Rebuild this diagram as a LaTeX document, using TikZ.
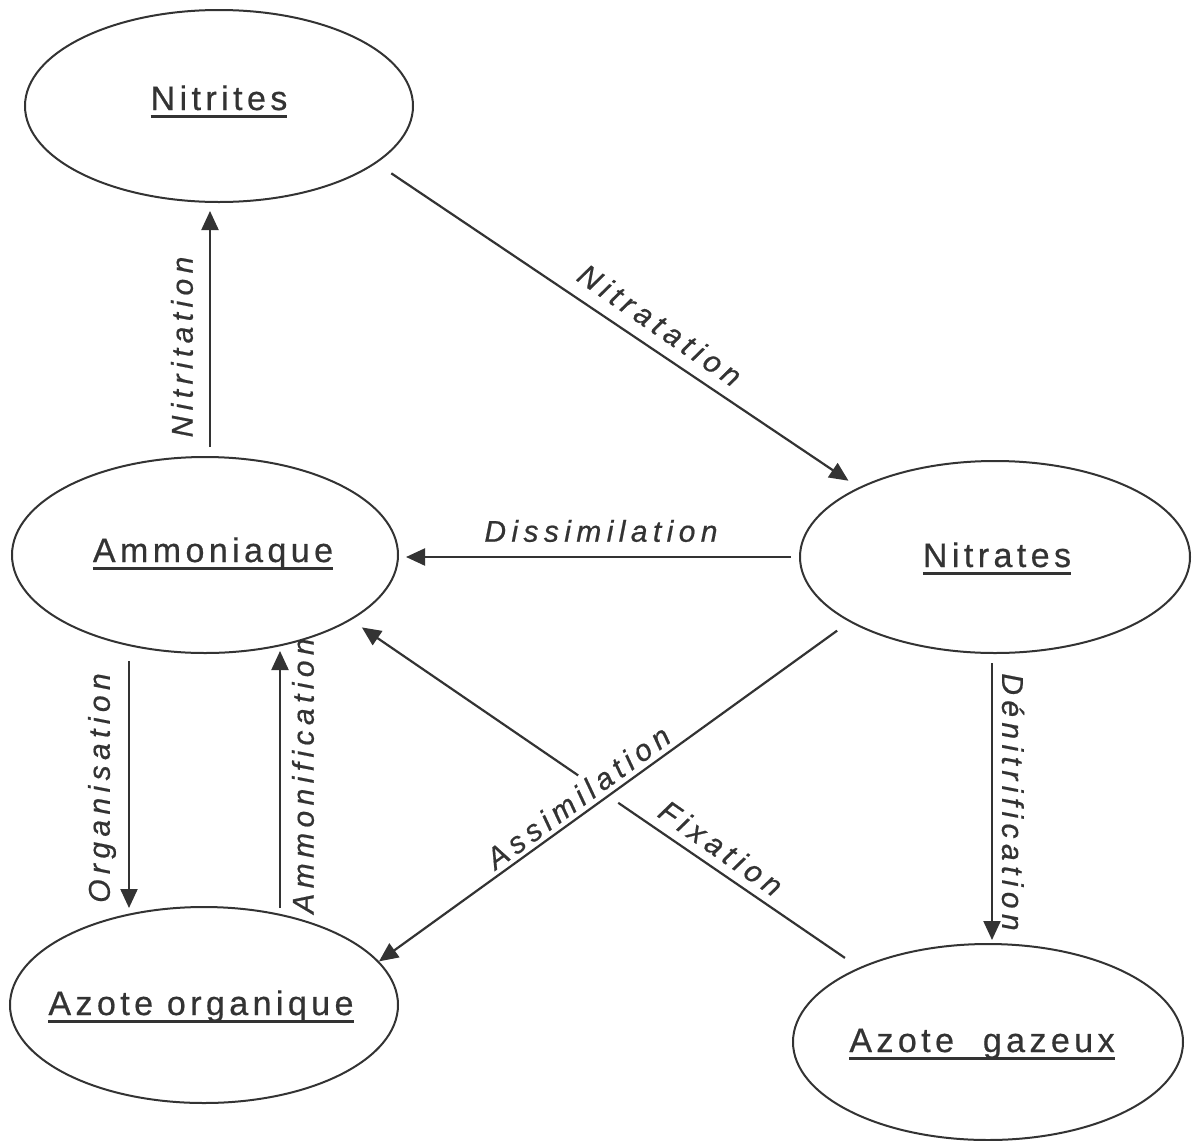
\documentclass[tikz,border=0pt]{standalone}
\usepackage{fontspec}
\setmainfont{Liberation Sans}
\newfontfamily\nodefont[LetterSpace=13,FakeBold=0.6]{Liberation Sans}
\newfontfamily\labfont[LetterSpace=18,FakeBold=0.6]{Liberation Sans}
\usetikzlibrary{shapes.geometric,arrows.meta,calc}
\definecolor{ink}{HTML}{333333}
\newcommand\ulbox[1]{\setbox0\hbox{#1}\rlap{\rule[-8pt]{\wd0}{2.6pt}}\box0}
\begin{document}
\begin{tikzpicture}[x=1pt,y=-1pt,
  state/.style={draw=ink, line width=2pt, ellipse, inner sep=0pt},
  ntext/.style={font=\nodefont\fontsize{34}{40}\selectfont, text=ink, anchor=base, inner sep=0pt},
  lab/.style={font=\labfont\itshape\fontsize{30}{36}\selectfont, text=ink, inner sep=0pt},
  plain/.style={draw=ink, line width=2.2pt},
  arr/.style={plain, -{Triangle[length=19pt,width=17pt]}}]
\useasboundingbox (0,0) rectangle (1192,1141);
% ellipses
\node[state, minimum width=388pt, minimum height=192pt] (nitrites) at (219,106) {};
\node[state, minimum width=386pt, minimum height=196pt] (ammoniaque) at (205,555) {};
\node[state, minimum width=390pt, minimum height=192pt] (nitrates) at (995,557) {};
\node[state, minimum width=388pt, minimum height=196pt] (azorg) at (204,1005) {};
\node[state, minimum width=390pt, minimum height=196pt] (gazeux) at (988,1042) {};
% node texts
\node[ntext] (tnitrites) at (219,110) {\ulbox{Nitrites}};
\node[ntext] (tammoniaque) at (213,562) {\ulbox{Ammoniaque}};
\node[ntext] (tnitrates) at (997,567) {\ulbox{Nitrates}};
\node[ntext] (tazorg) at (201,1015) {\ulbox{Azote organique}};
\node[ntext] (tgazeux) at (982,1052) {\ulbox{Azote\hspace{15pt} gazeux}};
% connectors
\draw[arr, shorten <=9pt, shorten >=8pt] ([xshift=5pt]ammoniaque.north) -- ([xshift=-9pt]nitrites.south);
\draw[arr, shorten <=18pt, shorten >=12pt] (nitrites.-20) -- (nitrates.153);
\draw[arr, shorten <=8pt, shorten >=7pt] (nitrates.west) -- (ammoniaque.east |- nitrates.west);
\draw[arr, shorten <=7pt, shorten >=-2pt] ([xshift=-76pt]ammoniaque.south) -- ([xshift=-75pt]azorg.north);
\draw[arr, shorten <=-2pt, shorten >=-3pt] ([xshift=76pt]azorg.north) -- ([xshift=75pt]ammoniaque.south);
\draw[arr, shorten <=9pt, shorten >=3pt] ([xshift=-3pt]nitrates.south) -- ([xshift=4pt]gazeux.north);
\draw[arr, shorten <=15pt] (nitrates.204) -- (azorg.14);
\coordinate (fs) at ($(gazeux.150)!17pt!(ammoniaque.-24)$);
\draw[plain] (fs) -- ($(gazeux.150)!0.474!(ammoniaque.-24)$);
\draw[arr, shorten >=13pt] ($(gazeux.150)!0.553!(ammoniaque.-24)$) -- (ammoniaque.-24);
% labels
\node[lab, rotate=90] (lnitritation) at (182,347) {Nitritation};
\node[lab, rotate=-34.5] (lnitratation) at (660,325) {Nitratation};
\node[lab] (ldissim) at (601,531) {Dissimilation};
\node[lab, rotate=90] (lorg) at (102,788) {Organisation};
\node[lab, rotate=90] (lammon) at (303,776) {Ammonification};
\node[lab, rotate=-90] (ldenit) at (1013,802) {Dénitrification};
\node[lab, rotate=36.2] (lassim) at (578,797) {Assimilation};
\node[lab, rotate=-34.9] (lfix) at (721,848) {Fixation};
\end{tikzpicture}
\end{document}
